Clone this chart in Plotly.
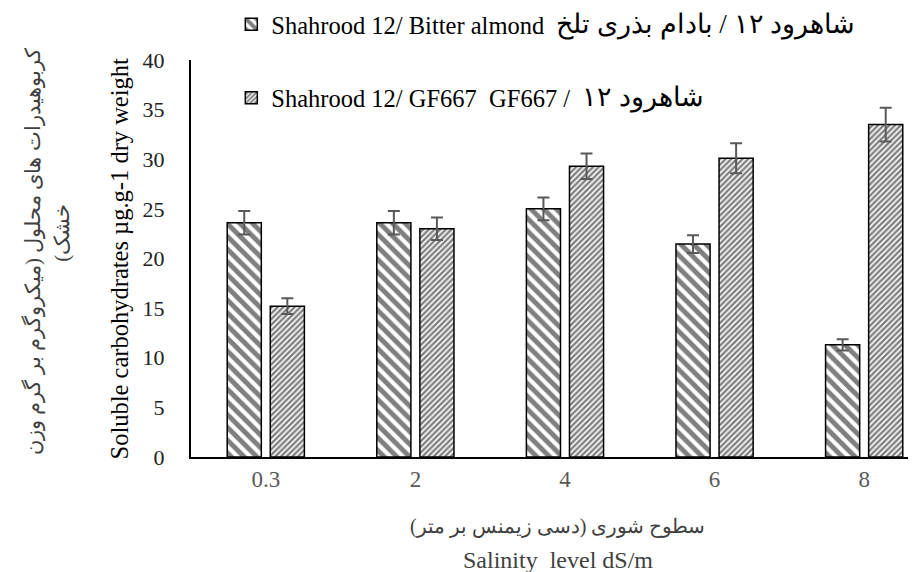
import plotly.graph_objects as go

categories = ["0.3", "2", "4", "6", "8"]
bitter_almond = [23.6, 23.6, 25.0, 21.45, 11.3]
bitter_err = [1.18, 1.18, 1.15, 0.9, 0.57]
gf667 = [15.2, 23.0, 29.3, 30.1, 33.5]
gf667_err = [0.8, 1.14, 1.28, 1.5, 1.7]
y_ticks = [0, 5, 10, 15, 20, 25, 30, 35, 40]

RLE, PDF = "\u202b", "\u202c"
SERIF = "Liberation Serif"
name1 = "Shahrood 12/ Bitter almond"
name1_fa = "شاهرود ۱۲ / بادام بذری تلخ"
name2 = "Shahrood 12/ GF667  GF667 /"
name2_fa = "شاهرود ۱۲"

fig = go.Figure()
fig.add_trace(go.Bar(
    x=categories, y=bitter_almond, name=name1, width=0.228, offset=-0.258,
    legend="legend",
    marker=dict(color="white", line=dict(color="black", width=1.5),
                pattern=dict(shape="\\", fgcolor="black", bgcolor="white", size=9, solidity=0.55)),
    error_y=dict(type="data", array=bitter_err, color="#595959", thickness=2, width=6),
))
fig.add_trace(go.Bar(
    x=categories, y=gf667, name=name2, width=0.228, offset=0.030,
    legend="legend2",
    marker=dict(color="white", line=dict(color="black", width=1.5),
                pattern=dict(shape="/", fgcolor="black", bgcolor="white", size=4, solidity=0.6)),
    error_y=dict(type="data", array=gf667_err, color="#595959", thickness=2, width=6),
))

fig.update_layout(
    width=916, height=572,
    margin=dict(l=183, r=0, t=52, b=123, autoexpand=False),
    paper_bgcolor="white", plot_bgcolor="white",
    barmode="overlay",
    showlegend=True,
    font=dict(family=SERIF, size=20, color="black"),
    legend=dict(x=0.055, y=1.09, xanchor="left", yanchor="middle",
                font=dict(size=24.5, family=SERIF, color="black"),
                bgcolor="rgba(0,0,0,0)"),
    legend2=dict(x=0.055, y=0.905, xanchor="left", yanchor="middle",
                 font=dict(size=24.5, family=SERIF, color="black"),
                 bgcolor="rgba(0,0,0,0)"),
    xaxis=dict(type="category", range=[-0.5, 4.40], showline=True, linecolor="black",
               linewidth=2, ticks="", showgrid=False, ticklabelstandoff=0,
               tickfont=dict(size=23, color="#595959", family=SERIF)),
    yaxis=dict(range=[0, 40], tickvals=y_ticks, showline=True, linecolor="black",
               linewidth=2, ticks="", showgrid=False, zeroline=False, ticklabelstandoff=20,
               tickfont=dict(size=22, color="#222222", family=SERIF)),
)

annotations = [
    dict(text=name1_fa, xref="paper", yref="paper", x=0.4952, y=1.09,
         xanchor="left", yanchor="middle", showarrow=False,
         font=dict(size=27, family=SERIF, color="black")),
    dict(text=name2_fa, xref="paper", yref="paper", x=0.5307, y=0.905,
         xanchor="left", yanchor="middle", showarrow=False,
         font=dict(size=27, family=SERIF, color="black")),
    dict(text="Soluble carbohydrates µg.g-1 dry weight", textangle=-90,
         xref="paper", yref="paper", x=-0.097, y=0.50, xanchor="center", yanchor="middle",
         showarrow=False, font=dict(size=24.5, family=SERIF, color="black")),
    dict(text=RLE + "کربوهیدرات های محلول (میکروگرم بر گرم وزن" + PDF, textangle=-90,
         xref="paper", yref="paper", x=-0.215, y=0.518, xanchor="center", yanchor="middle",
         showarrow=False, font=dict(size=21, family=SERIF, color="#404040")),
    dict(text=RLE + "خشک)" + PDF, textangle=-90,
         xref="paper", yref="paper", x=-0.176, y=0.565, xanchor="center", yanchor="middle",
         showarrow=False, font=dict(size=21, family=SERIF, color="#404040")),
    dict(text=RLE + "سطوح شوری (دسی زیمنس بر متر)" + PDF,
         xref="paper", yref="paper", x=0.5, y=-0.175, xanchor="center", yanchor="middle",
         showarrow=False, font=dict(size=20, family=SERIF, color="#404040")),
    dict(text="Salinity  level dS/m",
         xref="paper", yref="paper", x=0.5, y=-0.26, xanchor="center", yanchor="middle",
         showarrow=False, font=dict(size=24, family=SERIF, color="#404040")),
]
fig.update_layout(annotations=annotations)

fig.write_html("out.html")
